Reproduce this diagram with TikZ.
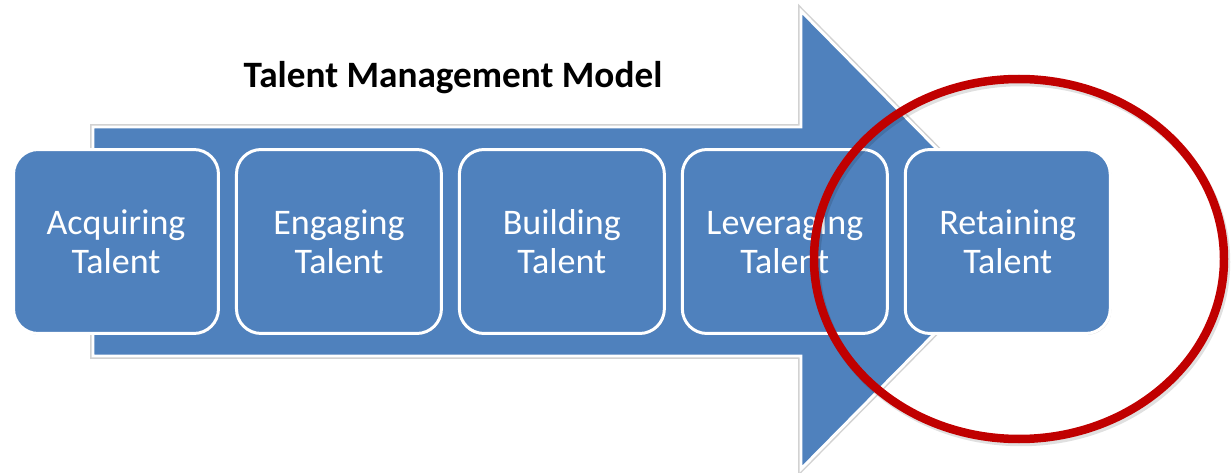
\documentclass[tikz,border=0pt]{standalone}
\usepackage{fontspec}
\setmainfont{Carlito}
\usepackage{tikz}
\usetikzlibrary{positioning,shadows}
\usepackage{xcolor}
\definecolor{tmBlue}{HTML}{4F81BD}
\definecolor{tmRed}{HTML}{C00000}

\tikzset{
  stage/.style={draw=white, line width=1.7pt, fill=tmBlue, rounded corners=14pt,
    minimum width=4.1cm, minimum height=3.68cm, inner sep=0pt,
    text=white, align=center, font=\fontsize{20.5}{22.2}\selectfont,
    drop shadow={opacity=0.3, shadow xshift=0.6pt, shadow yshift=-0.8pt}},
  ring/.style={line width=0.17cm}
}

\begin{document}
\begin{tikzpicture}[x=0.02cm, y=-0.02cm]
    \useasboundingbox (0,0) rectangle (1232,473);
    % big arrow behind the stages
    \draw[gray!35, line width=3.4pt] (93,127) -- (801,127) -- (801,11)
        -- (1027,240) -- (801,469) -- (801,356) -- (93,356) -- cycle;
    \draw[white, line width=1.7pt, fill=tmBlue] (93,127) -- (801,127) -- (801,11)
        -- (1027,240) -- (801,469) -- (801,356) -- (93,356) -- cycle;
    % Title
    \node[font=\fontsize{21.2}{26}\selectfont\bfseries, anchor=base] (title)
        at (453,88) {Talent Management Model};
    % Stages
    \node[stage] (acq) at (116,241.5) {Acquiring\\Talent};
    \node[stage, right=0.3cm of acq] (eng) {Engaging\\Talent};
    \node[stage, right=0.3cm of eng] (bld) {Building\\Talent};
    \node[stage, right=0.3cm of bld] (lev) {Leveraging\\Talent};
    \node[stage, right=0.3cm of lev] (ret) {Retaining\\Talent};
    % Red ring round the last stage
    \draw[ring, black, opacity=0.12] (1021,262) ellipse [x radius=205, y radius=180];
    \draw[ring, tmRed] (1019,259) ellipse [x radius=205, y radius=180];
\end{tikzpicture}
\end{document}
